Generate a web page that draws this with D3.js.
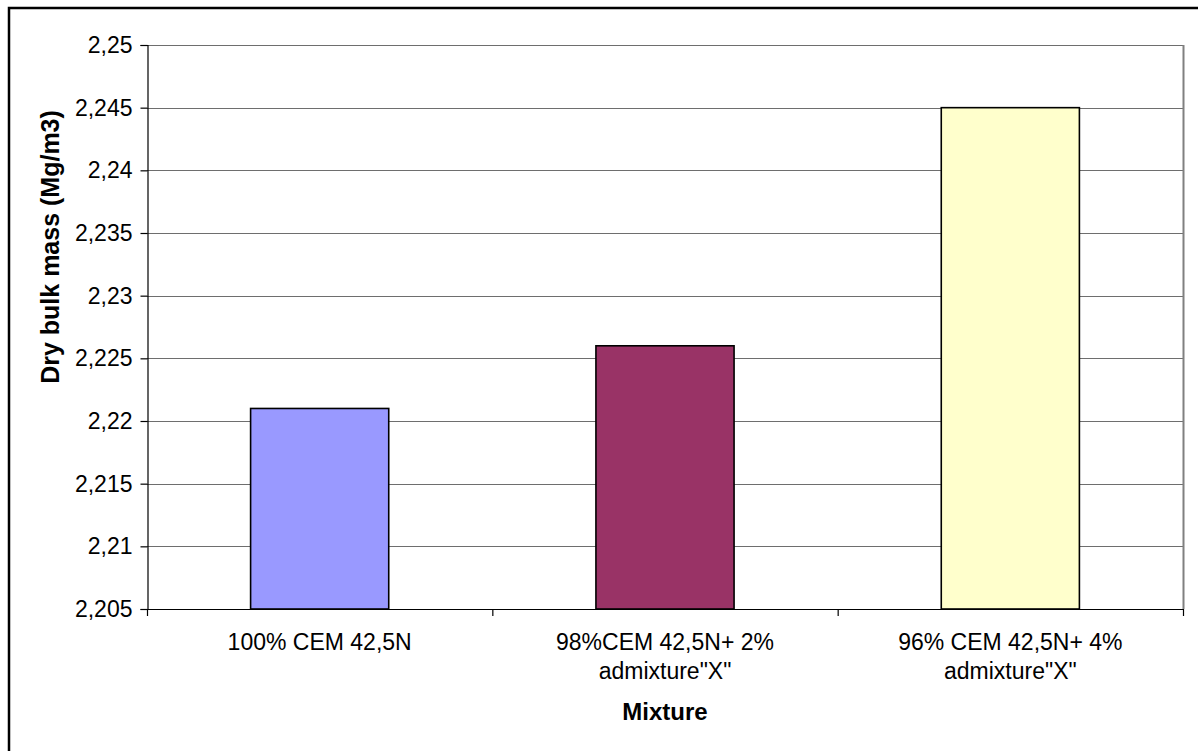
<!DOCTYPE html>
<html>
<head>
<meta charset="utf-8">
<script src="https://cdn.jsdelivr.net/npm/d3@7"></script>
<style>
  html, body { margin: 0; padding: 0; background: #fff; }
  svg { display: block; }
  text { font-family: "Liberation Sans", Arial, sans-serif; fill: #000; }
</style>
</head>
<body>
<svg id="chart" width="1198" height="751"></svg>
<script>
// Mixtures and their measured dry bulk mass
const categories = [
  ["100% CEM 42,5N"],
  ["98%CEM 42,5N+ 2%", "admixture\"X\""],
  ["96% CEM 42,5N+ 4%", "admixture\"X\""]
];
const values = [2.221, 2.226, 2.245];
const barColors = ["#9999FF", "#993366", "#FFFFCC"];
const yTicks = [2.205, 2.21, 2.215, 2.22, 2.225, 2.23, 2.235, 2.24, 2.245, 2.25];
const yTitle = "Dry bulk mass (Mg/m3)";
const xTitle = "Mixture";

const svg = d3.select("#chart");
const plot = { left: 147, top: 45, right: 1183, bottom: 609 };
const fmt = d => d3.format(".3~f")(d).replace(".", ",");

// outer chart frame
svg.append("rect")
  .attr("x", 9).attr("y", 8)
  .attr("width", 1210).attr("height", 770)
  .attr("fill", "none").attr("stroke", "#000").attr("stroke-width", 2.5);

const x = d3.scaleBand()
  .domain(d3.range(categories.length))
  .range([plot.left, plot.right])
  .paddingInner(0).paddingOuter(0);

const y = d3.scaleLinear()
  .domain([2.205, 2.25])
  .range([plot.bottom, plot.top]);

// horizontal gridlines
svg.append("g")
  .selectAll("line")
  .data(yTicks.slice(1))
  .join("line")
  .attr("x1", plot.left).attr("x2", plot.right)
  .attr("y1", d => Math.round(y(d)) + 0.5).attr("y2", d => Math.round(y(d)) + 0.5)
  .attr("stroke", "#6e6e6e").attr("stroke-width", 1.2);

// right edge of the plot area
svg.append("line")
  .attr("x1", plot.right + 0.5).attr("x2", plot.right + 0.5)
  .attr("y1", plot.top).attr("y2", plot.bottom)
  .attr("stroke", "#808080").attr("stroke-width", 2);

// bars
const barW = x.bandwidth() * 0.4;
svg.append("g")
  .selectAll("rect")
  .data(values)
  .join("rect")
  .attr("x", (d, i) => x(i) + (x.bandwidth() - barW) / 2)
  .attr("y", d => y(d))
  .attr("width", barW)
  .attr("height", d => y(2.205) - y(d))
  .attr("fill", (d, i) => barColors[i])
  .attr("stroke", "#000").attr("stroke-width", 1.6);

// y axis
const yAxis = d3.axisLeft(y)
  .tickValues(yTicks)
  .tickFormat(fmt)
  .tickSize(7)
  .tickPadding(8);
const gy = svg.append("g")
  .attr("transform", `translate(${plot.left + 0.5},0)`)
  .call(yAxis);
gy.select(".domain").attr("stroke", "#000").attr("stroke-width", 1.2);
gy.selectAll(".tick line").attr("stroke", "#000").attr("stroke-width", 1.2);
gy.selectAll(".tick text")
  .attr("font-size", 23)
  .attr("font-family", "Liberation Sans, Arial, sans-serif")
  .attr("fill", "#000");

// x axis baseline and category boundary ticks
const boundaries = d3.range(categories.length + 1).map(i =>
  i < categories.length ? x(i) : plot.right);
svg.append("line")
  .attr("x1", plot.left).attr("x2", plot.right + 1)
  .attr("y1", plot.bottom + 0.5).attr("y2", plot.bottom + 0.5)
  .attr("stroke", "#000").attr("stroke-width", 1.2);
svg.append("g")
  .selectAll("line")
  .data(boundaries)
  .join("line")
  .attr("x1", d => d + 0.5).attr("x2", d => d + 0.5)
  .attr("y1", plot.bottom).attr("y2", plot.bottom + 7)
  .attr("stroke", "#000").attr("stroke-width", 1.2);

// category labels
const labels = svg.append("g")
  .selectAll("text")
  .data(categories)
  .join("text")
  .attr("x", (d, i) => x(i) + x.bandwidth() / 2)
  .attr("y", 650)
  .attr("text-anchor", "middle")
  .attr("font-size", 23);
labels.selectAll("tspan")
  .data(d => d)
  .join("tspan")
  .attr("x", function () { return this.parentNode.getAttribute("x"); })
  .attr("dy", (d, i) => i === 0 ? 0 : 28.5)
  .text(d => d);

// axis titles
svg.append("text")
  .attr("x", (plot.left + plot.right) / 2)
  .attr("y", 720)
  .attr("text-anchor", "middle")
  .attr("font-size", 24)
  .attr("font-weight", "bold")
  .text(xTitle);

svg.append("text")
  .attr("transform", "translate(59,247) rotate(-90)")
  .attr("text-anchor", "middle")
  .attr("font-size", 25)
  .attr("font-weight", "bold")
  .text(yTitle);
</script>
</body>
</html>
